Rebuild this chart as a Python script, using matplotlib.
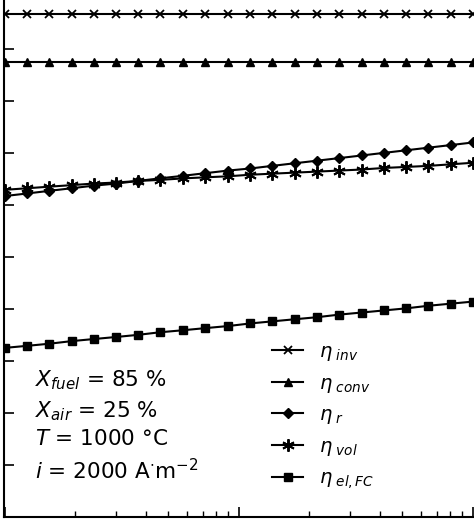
import matplotlib
matplotlib.use("Agg")
import matplotlib.pyplot as plt
import numpy as np
from matplotlib.ticker import LogLocator, NullFormatter

x = [1.0, 1.25, 1.55, 1.93, 2.4, 3.0, 3.7, 4.6, 5.8, 7.2, 9.0, 11.2, 13.9, 17.3, 21.6, 26.9, 33.5, 41.7, 51.9, 64.6, 80.4, 100.0]
eta_inv = [9.67]*22
eta_conv = [8.74]*22
eta_r = [6.17,6.22,6.27,6.32,6.37,6.41,6.46,6.51,6.56,6.61,6.66,6.70,6.75,6.80,6.85,6.90,6.95,7.00,7.05,7.10,7.15,7.20]
eta_vol = [6.29,6.32,6.35,6.38,6.41,6.43,6.46,6.48,6.51,6.53,6.55,6.58,6.60,6.62,6.64,6.66,6.68,6.71,6.73,6.75,6.78,6.81]
eta_el = [3.25,3.29,3.33,3.38,3.42,3.46,3.50,3.55,3.59,3.63,3.67,3.72,3.76,3.80,3.84,3.89,3.93,3.97,4.01,4.06,4.10,4.14]

fig = plt.figure(figsize=(4.74, 5.20), dpi=100)
ax = fig.add_axes([0.008, 0.006, 1.0, 1.0])
kw = dict(color='black', lw=1.5, ms=6)
ax.plot(x, eta_inv, marker='x', mew=1.3, label=r'$\eta_{\ inv}$', **kw)
ax.plot(x, eta_conv, marker='^', label=r'$\eta_{\ conv}$', **kw)
ax.plot(x, eta_r, marker='D', ms=5, color='black', lw=1.5, label=r'$\eta_{\ r}$')
ax.plot(x, eta_vol, marker=(6, 2, 0), mew=1.4, color='black', lw=1.5, ms=9, label=r'$\eta_{\ vol}$')
ax.plot(x, eta_el, marker='s', label=r'$\eta_{\ el,FC}$', **kw)
ax.set_xscale('log')
ax.set_xlim(0.99, 105)
ax.set_ylim(0, 10)
ax.set_yticks(np.arange(1, 10))
ax.yaxis.set_major_formatter(NullFormatter())
ax.xaxis.set_major_locator(LogLocator(base=10))
ax.xaxis.set_minor_locator(LogLocator(base=10, subs=np.arange(2, 10)))
ax.xaxis.set_major_formatter(NullFormatter())
ax.xaxis.set_minor_formatter(NullFormatter())
ax.tick_params(which='both', direction='in', top=False, right=False)
ax.tick_params(which='major', length=7, width=1.2)
ax.tick_params(which='minor', length=4, width=1)
for s in ax.spines.values():
    s.set_linewidth(1.5)
ax.legend(loc='lower left', bbox_to_anchor=(0.55, 0.035), frameon=False, fontsize=14,
          labelspacing=0.55, handlelength=1.6, borderaxespad=0)
txt = ("$X_{fuel}$ = 85 %\n$X_{air}$ = 25 %\n$T$ = 1000 °C\n$i$ = 2000 A$^{\\cdot}$m$^{-2}$")
ax.text(0.065, 0.285, txt, transform=ax.transAxes, fontsize=15.5, va='top', linespacing=1.4,
        family='DejaVu Sans')
fig.savefig('out.png', dpi=100)
